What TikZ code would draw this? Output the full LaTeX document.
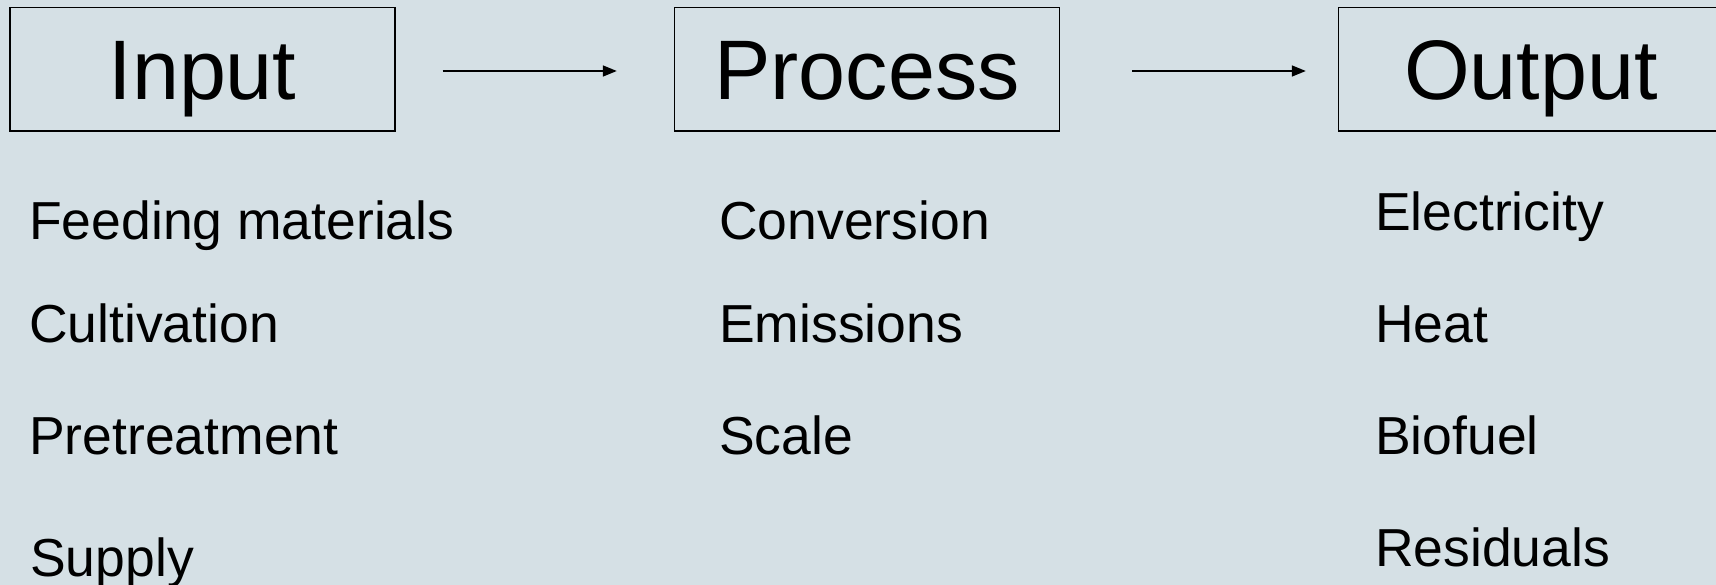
\documentclass[tikz,border=0pt]{standalone}
\usepackage{fontspec}
\setmainfont{Liberation Sans}
\usetikzlibrary{arrows.meta}
\definecolor{bgcol}{RGB}{213,224,229}
\tikzset{
  titlebox/.style={draw=black, line width=1.4pt, minimum width=385pt, minimum height=123.5pt,
    inner sep=0pt, text height=60pt, text depth=0pt,
    font=\fontsize{84.5}{84.5}\selectfont},
  item/.style={anchor=base west, inner sep=0pt, font=\fontsize{53.5}{53.5}\selectfont},
  flow/.style={line width=1.6pt, -{Triangle[length=14pt,width=11pt]}}
}
\begin{document}
\begin{tikzpicture}[x=1pt,y=-1pt]
\fill[bgcol] (0,0) rectangle (1716,585);
\useasboundingbox (0,0) rectangle (1716,585);
\clip (0,0) rectangle (1716,585);
\node[titlebox] (input) at (202.5,69.3) {Input};
\node[titlebox] (process) at (867,69.3) {Process};
\node[titlebox] (output) at (1531,69.3) {Output};
\draw[flow, shorten <=47pt, shorten >=57pt] ([yshift=-1.7pt]input.east) -- ([yshift=-1.7pt]process.west);
\draw[flow, shorten <=72pt, shorten >=32pt] ([yshift=-1.7pt]process.east) -- ([yshift=-1.7pt]output.west);
\node[item] (feed) at (29,240) {Feeding materials};
\node[item] (cult) at (29,342) {Cultivation};
\node[item] (pret) at (29,454) {Pretreatment};
\node[item] (supp) at (30,576) {Supply};
\node[item] (conv) at (719,240) {Conversion};
\node[item] (emis) at (719,342) {Emissions};
\node[item] (scal) at (719,454) {Scale};
\node[item] (elec) at (1375,231) {Electricity};
\node[item] (heat) at (1375,342.5) {Heat};
\node[item] (biof) at (1375,454) {Biofuel};
\node[item] (resi) at (1375,566) {Residuals};
\end{tikzpicture}
\end{document}
